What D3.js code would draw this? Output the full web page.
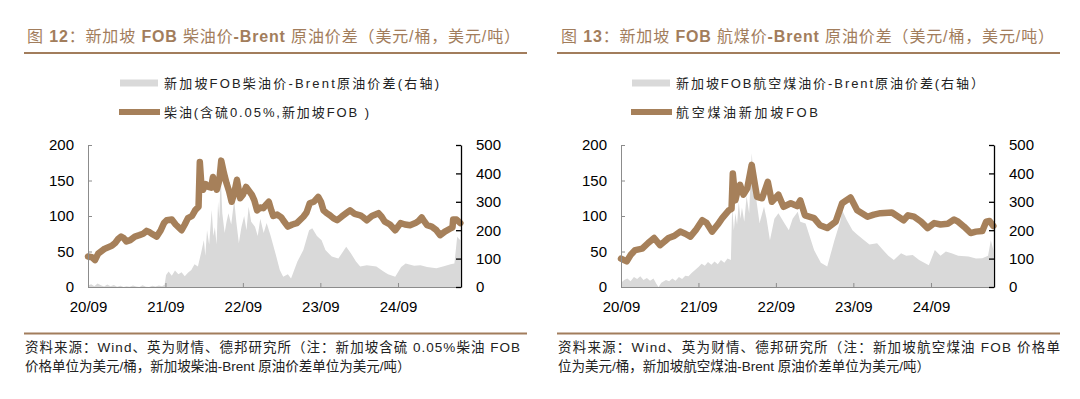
<!DOCTYPE html>
<html>
<head>
<meta charset="utf-8">
<script src="https://cdn.jsdelivr.net/npm/d3@7"></script>
<style>
  body { margin: 0; background: #fff; }
  svg text { font-family: "Liberation Sans", Arial, "Noto Sans CJK SC", sans-serif; }
</style>
</head>
<body>
<div id="mount"></div>
<script>
// 新加坡柴油FOB (美元/桶)
var dieselPrice = [
  ['2020-09-01',43],['2020-09-19',42],['2020-10-04',38],['2020-10-19',47],['2020-11-19',54],
  ['2020-12-22',58],['2021-01-07',62],['2021-01-22',68],['2021-02-04',71],['2021-02-16',69],
  ['2021-03-01',64],['2021-03-19',66],['2021-04-10',71],['2021-05-01',73],['2021-05-19',75],
  ['2021-06-04',79],['2021-06-19',77],['2021-07-04',74],['2021-07-22',71],['2021-08-10',80],
  ['2021-08-25',90],['2021-09-07',94],['2021-10-01',95],['2021-10-19',88],['2021-11-16',80],
  ['2021-12-01',88],['2021-12-16',97],['2022-01-04',100],['2022-01-19',108],['2022-02-04',113],
  ['2022-02-10',176],['2022-02-16',150],['2022-02-25',137],['2022-03-10',145],['2022-03-22',141],
  ['2022-04-04',140],['2022-04-13',155],['2022-05-01',137],['2022-05-13',150],['2022-05-22',178],
  ['2022-06-04',160],['2022-06-16',146],['2022-06-28',135],['2022-07-10',120],['2022-07-22',132],
  ['2022-08-04',151],['2022-08-19',125],['2022-09-01',130],['2022-09-16',141],['2022-09-28',136],
  ['2022-10-13',130],['2022-10-25',122],['2022-11-07',108],['2022-11-22',112],['2022-12-07',111],
  ['2022-12-19',116],['2023-01-01',120],['2023-01-13',108],['2023-01-22',100],['2023-02-10',102],
  ['2023-03-01',98],['2023-03-10',94],['2023-04-01',85],['2023-04-22',88],['2023-05-13',90],
  ['2023-06-13',99],['2023-06-28',105],['2023-07-13',118],['2023-08-01',120],['2023-08-22',127],
  ['2023-09-04',120],['2023-09-16',108],['2023-10-01',104],['2023-10-16',101],['2023-11-01',97],
  ['2023-11-19',94],['2023-12-10',99],['2024-01-01',104],['2024-01-19',108],['2024-02-10',103],
  ['2024-03-07',101],['2024-03-22',98],['2024-04-07',94],['2024-05-01',100],['2024-06-01',104],
  ['2024-06-16',99],['2024-07-01',92],['2024-07-25',88],['2024-08-19',80],['2024-09-13',90],
  ['2024-10-04',88],['2024-10-28',87],['2024-11-22',90],['2024-12-07',93],['2024-12-22',98],
  ['2025-01-04',92],['2025-01-16',87],['2025-02-07',85],['2025-03-01',80],['2025-03-19',73],
  ['2025-04-10',78],['2025-05-04',82],['2025-05-16',84],['2025-05-19',95],['2025-06-04',95],
  ['2025-06-22',90]
];

// 新加坡柴油-Brent价差 (美元/吨, 右轴)
var dieselSpread = [
  ['2020-09-01',5],['2020-09-16',10],['2020-10-01',3],['2020-10-16',12],['2020-11-01',6],
  ['2020-11-16',2],['2020-12-01',9],['2020-12-16',3],['2021-01-01',7],['2021-01-16',1],
  ['2021-02-01',4],['2021-02-16',0],['2021-03-01',3],['2021-03-16',1],['2021-04-01',5],
  ['2021-04-16',2],['2021-05-01',0],['2021-05-16',6],['2021-06-01',1],['2021-06-16',0],
  ['2021-07-01',4],['2021-07-16',2],['2021-08-01',5],['2021-08-16',3],['2021-08-28',8],
  ['2021-09-04',42],['2021-09-16',55],['2021-10-01',40],['2021-10-16',58],['2021-11-01',45],
  ['2021-11-16',52],['2021-12-01',38],['2021-12-16',50],['2022-01-01',60],['2022-01-16',80],
  ['2022-02-01',72],['2022-02-16',120],['2022-03-01',165],['2022-03-08',110],['2022-03-16',200],
  ['2022-03-26',150],['2022-04-07',271],['2022-04-15',180],['2022-04-22',210],['2022-04-30',150],
  ['2022-05-07',300],['2022-05-13',240],['2022-05-19',400],['2022-05-27',260],['2022-06-07',190],
  ['2022-06-16',230],['2022-06-25',260],['2022-07-08',220],['2022-07-22',306],['2022-08-01',230],
  ['2022-08-13',155],['2022-08-25',210],['2022-09-07',250],['2022-09-18',200],['2022-09-28',283],
  ['2022-10-10',230],['2022-10-28',212],['2022-11-10',180],['2022-11-22',240],['2022-12-08',190],
  ['2022-12-22',225],['2023-01-10',180],['2023-02-01',120],['2023-02-22',60],
  ['2023-03-10',36],['2023-04-01',45],['2023-04-16',30],['2023-05-16',90],['2023-06-13',130],
  ['2023-07-10',200],['2023-07-25',207],['2023-08-16',180],['2023-09-07',165],['2023-09-25',130],
  ['2023-10-25',107],['2023-11-25',100],['2024-01-01',142],['2024-01-22',120],['2024-02-16',90],
  ['2024-03-07',72],['2024-04-07',77],['2024-05-22',72],['2024-06-25',55],['2024-07-16',45],
  ['2024-08-19',36],['2024-09-16',70],['2024-10-07',83],['2024-11-16',75],['2024-12-16',77],
  ['2025-01-16',70],['2025-03-01',66],['2025-04-01',72],['2025-05-07',80],['2025-05-25',83],
  ['2025-06-07',177],['2025-06-22',165]
];

// 航空煤油新加坡FOB (美元/桶)
var jetPrice = [
  ['2020-09-01',40],['2020-09-28',36],['2020-10-16',45],['2020-11-07',52],['2020-12-10',54],
  ['2021-01-07',62],['2021-02-04',69],['2021-03-04',59],['2021-03-25',64],['2021-04-13',69],
  ['2021-05-10',72],['2021-06-07',78],['2021-07-01',75],['2021-07-25',71],['2021-08-19',80],
  ['2021-09-19',94],['2021-10-10',90],['2021-11-04',78],['2021-12-01',88],['2021-12-22',97],
  ['2022-01-22',108],['2022-02-04',110],['2022-02-10',160],['2022-02-22',122],['2022-03-04',135],
  ['2022-03-16',144],['2022-04-01',130],['2022-04-19',139],['2022-05-10',172],['2022-05-22',150],
  ['2022-06-04',127],['2022-06-28',125],['2022-07-25',148],['2022-08-13',120],['2022-09-13',130],
  ['2022-10-07',113],['2022-11-10',118],['2022-12-10',114],['2022-12-25',122],['2023-01-16',101],
  ['2023-02-28',97],['2023-03-28',87],['2023-05-01',83],['2023-06-10',92],['2023-07-10',118],
  ['2023-08-19',126],['2023-09-19',108],['2023-11-07',99],['2023-12-07',102],['2024-01-07',104],
  ['2024-03-01',105],['2024-04-25',94],['2024-05-16',101],['2024-06-13',99],['2024-07-16',92],
  ['2024-08-16',83],['2024-09-16',90],['2024-10-16',88],['2024-11-19',89],['2024-12-19',95],
  ['2025-01-07',92],['2025-02-04',85],['2025-03-07',76],['2025-04-01',78],['2025-05-01',79],
  ['2025-05-19',92],['2025-06-04',93],['2025-06-22',86]
];

// 新加坡航煤-Brent价差 (美元/吨, 右轴)
var jetSpread = [
  ['2020-09-01',15],['2020-09-16',25],['2020-10-01',30],['2020-10-16',20],['2020-11-01',35],
  ['2020-11-16',28],['2020-12-01',38],['2020-12-16',25],['2021-01-01',32],['2021-01-16',22],
  ['2021-02-01',30],['2021-02-16',10],['2021-02-25',0],['2021-03-10',15],['2021-04-01',25],
  ['2021-04-16',20],['2021-05-01',30],['2021-05-16',22],['2021-06-01',35],['2021-06-16',28],
  ['2021-07-01',40],['2021-07-16',38],['2021-08-01',50],['2021-08-16',60],['2021-09-01',70],
  ['2021-09-16',82],['2021-10-01',75],['2021-10-16',88],['2021-11-01',78],['2021-11-16',90],
  ['2021-12-01',80],['2021-12-16',95],['2022-01-01',85],['2022-01-16',100],['2022-02-01',95],
  ['2022-02-07',283],['2022-02-15',200],['2022-02-22',260],['2022-03-02',220],['2022-03-10',300],
  ['2022-03-18',240],['2022-03-25',280],['2022-04-05',230],['2022-04-16',320],['2022-04-28',260],
  ['2022-05-10',471],['2022-05-22',366],['2022-06-04',290],['2022-06-16',225],['2022-07-07',283],
  ['2022-07-19',240],['2022-08-04',165],['2022-08-25',240],['2022-09-13',260],['2022-10-07',230],
  ['2022-11-01',200],['2022-11-19',240],['2022-12-13',265],['2022-12-25',230],['2023-01-19',224],
  ['2023-02-28',130],['2023-04-01',85],['2023-05-01',72],['2023-06-04',165],['2023-07-01',230],
  ['2023-07-10',271],['2023-08-01',236],['2023-08-28',200],['2023-09-19',185],['2023-10-22',165],
  ['2023-11-16',150],['2023-12-22',154],['2024-01-19',130],['2024-02-13',110],['2024-03-10',95],
  ['2024-04-13',119],['2024-05-07',110],['2024-06-07',113],['2024-07-07',95],['2024-08-22',77],
  ['2024-09-19',130],['2024-10-16',110],['2024-11-10',125],['2024-12-07',119],['2025-01-07',110],
  ['2025-02-25',107],['2025-04-01',100],['2025-05-01',101],['2025-05-28',110],['2025-06-10',165],
  ['2025-06-22',130]
];

var xTicks = ['2020-09-01','2021-09-01','2022-09-01','2023-09-01','2024-09-01'];
var leftTicks = [0, 50, 100, 150, 200];
var rightTicks = [0, 100, 200, 300, 400, 500];

var titleLeft = [['图 ',0],['12',1],['：新加坡 ',0],['FOB',1],[' 柴油价',0],['-Brent',1],[' 原油价差（美元/桶，美元/吨）',0]];
var titleRight = [['图 ',0],['13',1],['：新加坡 ',0],['FOB',1],[' 航煤价',0],['-Brent',1],[' 原油价差（美元/桶，美元/吨）',0]];

var BROWN = '#a6805a';
var TITLE = '#a27d5c';
var GREY = '#d9d9d9';

var parse = d3.timeParse('%Y-%m-%d');

function toPts (arr) {
  return arr.map(function (d) { return { date: parse(d[0]), v: d[1] }; });
}

var svg = d3.select('#mount').append('svg')
  .attr('width', 1080)
  .attr('height', 399);

svg.append('rect').attr('width', 1080).attr('height', 399).attr('fill', '#fff');

var panels = [
  {
    plotX: 88, legendX: 120,
    title: titleLeft, titleX: 27, ruleX: [24, 527],
    price: toPts(dieselPrice), spread: toPts(dieselSpread),
    legend1: '新加坡FOB柴油价-Brent原油价差(右轴)', legend1W: 275,
    legend2: '柴油(含硫0.05%,新加坡FOB )', legend2W: 205,
    src1: '资料来源：Wind、英为财情、德邦研究所（注：新加坡含硫 0.05%柴油 FOB',
    src2: '价格单位为美元/桶，新加坡柴油-Brent 原油价差单位为美元/吨）',
    src1W: 495
  },
  {
    plotX: 621, legendX: 632,
    title: titleRight, titleX: 561, ruleX: [557, 1060],
    price: toPts(jetPrice), spread: toPts(jetSpread),
    legend1: '新加坡FOB航空煤油价-Brent原油价差(右轴）', legend1W: 308,
    legend2: '航空煤油新加坡FOB', legend2W: 142,
    src1: '资料来源：Wind、英为财情、德邦研究所（注：新加坡航空煤油 FOB 价格单',
    src2: '位为美元/桶，新加坡航空煤油-Brent 原油价差单位为美元/吨）',
    src1W: 502
  }
];

var W = 373, H = 142, TOP = 145;

var x = d3.scaleTime()
  .domain([parse('2020-09-01'), parse('2025-06-25')])
  .range([0, W]);
var yL = d3.scaleLinear().domain([0, 200]).range([H, 0]);
var yR = d3.scaleLinear().domain([0, 500]).range([H, 0]);

panels.forEach(function (p) {
  // title
  var t = svg.append('text')
    .attr('x', p.titleX).attr('y', 42)
    .attr('font-size', 16)
    .attr('fill', TITLE)
    .attr('textLength', 493)
    .attr('lengthAdjust', 'spacing');
  p.title.forEach(function (s) {
    t.append('tspan').attr('font-weight', s[1] ? 'bold' : 'normal').text(s[0]);
  });
  svg.append('line')
    .attr('x1', p.ruleX[0]).attr('x2', p.ruleX[1])
    .attr('y1', 53).attr('y2', 53)
    .attr('stroke', TITLE).attr('stroke-width', 2);

  // legend
  svg.append('rect')
    .attr('x', p.legendX).attr('y', 79.5)
    .attr('width', 38).attr('height', 7)
    .attr('fill', GREY);
  svg.append('text')
    .attr('x', p.legendX + 44).attr('y', 88)
    .attr('font-size', 13).attr('fill', '#222')
    .attr('textLength', p.legend1W).attr('lengthAdjust', 'spacing')
    .text(p.legend1);
  svg.append('line')
    .attr('x1', p.legendX - 1).attr('x2', p.legendX + 40)
    .attr('y1', 112).attr('y2', 112)
    .attr('stroke', BROWN).attr('stroke-width', 6);
  svg.append('text')
    .attr('x', p.legendX + 44).attr('y', 117)
    .attr('font-size', 13).attr('fill', '#222')
    .attr('textLength', p.legend2W).attr('lengthAdjust', 'spacing')
    .text(p.legend2);

  // plot
  var g = svg.append('g').attr('transform', 'translate(' + p.plotX + ',' + TOP + ')');

  var area = d3.area()
    .x(function (d) { return x(d.date); })
    .y0(H)
    .y1(function (d) { return yR(d.v); });
  g.append('path').datum(p.spread)
    .attr('d', area)
    .attr('fill', GREY);

  var line = d3.line()
    .x(function (d) { return x(d.date); })
    .y(function (d) { return yL(d.v); });
  g.append('path').datum(p.price)
    .attr('d', line)
    .attr('fill', 'none')
    .attr('stroke', BROWN)
    .attr('stroke-width', 6.5)
    .attr('stroke-linejoin', 'round')
    .attr('stroke-linecap', 'round');

  var ax = g.append('g').attr('transform', 'translate(0,' + H + ')')
    .call(d3.axisBottom(x)
      .tickValues(xTicks.map(parse))
      .tickFormat(d3.timeFormat('%y/%m'))
      .tickSize(-4).tickSizeOuter(0).tickPadding(14));
  var al = g.append('g')
    .call(d3.axisLeft(yL).tickValues(leftTicks)
      .tickSize(-4).tickSizeOuter(0).tickPadding(14));
  var ar = g.append('g').attr('transform', 'translate(' + W + ',0)')
    .call(d3.axisRight(yR).tickValues(rightTicks)
      .tickSize(-5).tickSizeOuter(0).tickPadding(15));

  [ax, al].forEach(function (a) {
    a.selectAll('path, line').attr('stroke', '#8c8c8c');
  });
  ar.selectAll('path, line').attr('stroke', '#000').attr('stroke-width', 1.3);
  [ax, al, ar].forEach(function (a) {
    a.selectAll('text')
      .attr('font-size', 15)
      .attr('fill', '#000')
      .attr('font-family', '"Liberation Sans", Arial, sans-serif');
  });

  // source
  svg.append('line')
    .attr('x1', p.ruleX[0]).attr('x2', p.ruleX[1])
    .attr('y1', 333.5).attr('y2', 333.5)
    .attr('stroke', TITLE).attr('stroke-width', 2);
  svg.append('text')
    .attr('x', p.ruleX[0] + 1).attr('y', 352)
    .attr('font-size', 13.5).attr('fill', '#222')
    .attr('textLength', p.src1W).attr('lengthAdjust', 'spacing')
    .text(p.src1);
  svg.append('text')
    .attr('x', p.ruleX[0] + 1).attr('y', 371)
    .attr('font-size', 13.5).attr('fill', '#222')
    .text(p.src2);
});
</script>
</body>
</html>
